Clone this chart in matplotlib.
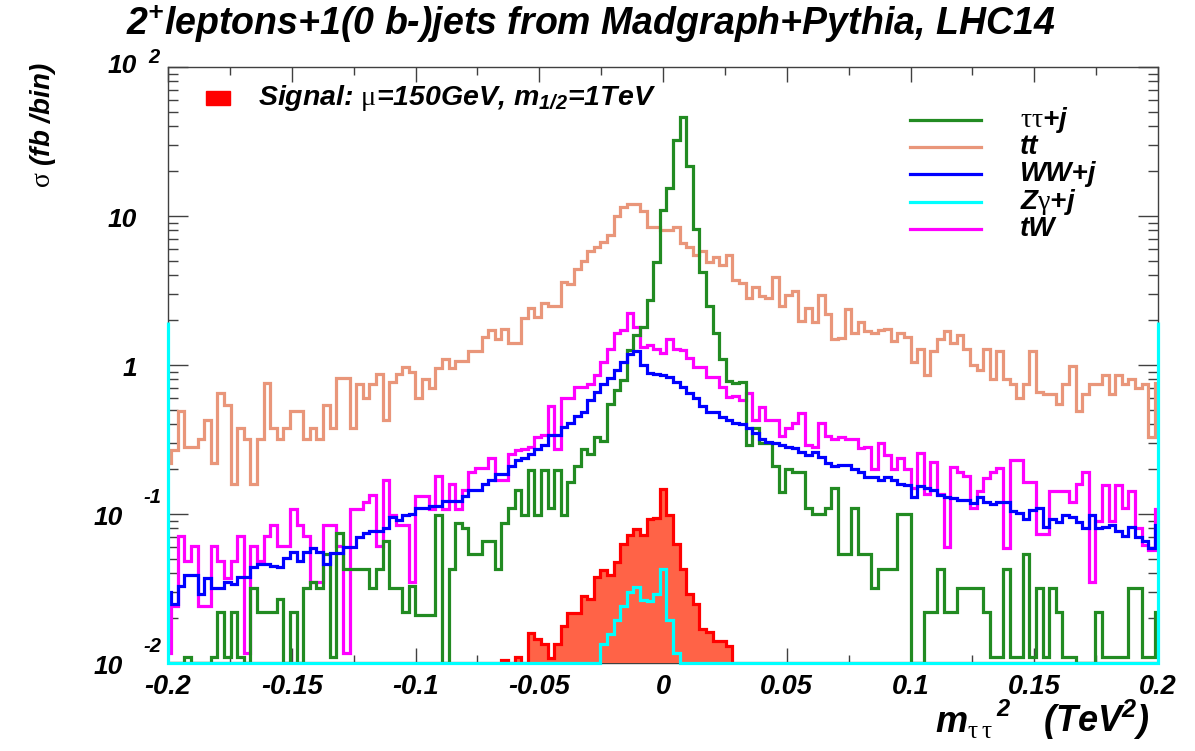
import numpy as np
import matplotlib
matplotlib.use("Agg")
import matplotlib.pyplot as plt
from matplotlib.transforms import ScaledTranslation
from matplotlib.ticker import LogLocator, NullFormatter, FixedLocator

plt.rcParams['font.family'] = 'Liberation Sans'
plt.rcParams['mathtext.fontset'] = 'custom'
plt.rcParams['mathtext.rm'] = 'Liberation Serif'
plt.rcParams['mathtext.it'] = 'Liberation Sans:style=italic:weight=bold'
plt.rcParams['mathtext.bf'] = 'Liberation Sans:style=italic:weight=bold'

# ---------------- data ----------------
N_BINS = 150                      # bins across [-0.2, 0.2], centred on 0
X_RANGE = (-0.2, 0.2)
Y_RANGE = (1e-2, 1e2)

# bin contents for bins -75 ... +75 (bin 0 centred at m^2 = 0)
tt = [0.22, 0.27, 0.49, 0.28, 0.28, 0.32, 0.43, 0.22, 0.65, 0.54,
      0.16, 0.38, 0.32, 0.16, 0.32, 0.76, 0.38, 0.32, 0.38, 0.49,
      0.49, 0.32, 0.38, 0.32, 0.54, 0.38, 0.82, 0.82, 0.38, 0.74,
      0.60, 0.74, 0.87, 0.43, 0.77, 0.87, 0.97, 0.90,
      0.60, 0.81, 0.70, 0.95, 1.10, 0.95, 1.07, 1.07, 1.24, 1.24,
      1.53, 1.71, 1.50, 1.75, 1.40, 1.40, 2.07, 2.40, 2.10, 2.60, 2.50, 2.50,
      3.6, 3.5, 4.4, 5.0, 5.8, 6.2, 6.7, 7.5, 10.0, 11.5,
      12.1, 12.1, 10.8, 8.4, 8.4, 8.1, 8.1, 8.4, 6.6, 6.2,
      5.5, 5.8, 4.9, 5.3, 4.7, 5.5, 3.7,
      3.57, 2.80, 3.36, 2.89, 2.80, 3.90, 2.49, 2.97, 3.16, 1.97,
      2.41, 1.93, 2.97, 2.20, 1.49, 1.52, 2.37, 1.63, 1.95, 1.68,
      1.63, 1.73, 1.75, 1.46, 1.65, 1.53,
      1.05, 1.28, 0.86, 1.24, 1.49, 1.68, 1.40, 1.58, 1.28, 1.00,
      0.92, 1.28, 0.81, 1.24, 0.81, 0.74, 0.60, 0.74, 1.24, 0.66,
      0.64, 0.64, 0.55, 0.74, 0.98, 0.49, 0.64, 0.74, 0.74, 0.86,
      0.64, 0.86, 0.74, 0.81, 0.70, 0.74, 0.33, 0.76]

ww = [0.030, 0.025, 0.033, 0.039, 0.039, 0.029, 0.037, 0.032, 0.032, 0.035,
      0.034, 0.038, 0.038, 0.044, 0.046, 0.046, 0.045, 0.044, 0.051, 0.056,
      0.048, 0.056, 0.059, 0.056, 0.046, 0.055, 0.055, 0.060, 0.060, 0.070,
      0.075, 0.077, 0.077, 0.080, 0.095, 0.091, 0.098, 0.100,
      0.109, 0.109, 0.114, 0.114, 0.123, 0.123, 0.123, 0.133, 0.146, 0.146,
      0.159, 0.169, 0.185, 0.185, 0.209, 0.229, 0.236, 0.251, 0.274, 0.292,
      0.339, 0.339, 0.383, 0.406, 0.458, 0.487,
      0.58, 0.66, 0.74, 0.82, 0.92, 1.05, 1.18, 1.25, 1.00, 0.88,
      0.87, 0.86, 0.83, 0.77, 0.71, 0.65, 0.60, 0.534, 0.487, 0.487,
      0.445, 0.426, 0.406,
      0.400, 0.376, 0.348, 0.317, 0.305, 0.298, 0.290, 0.283, 0.276, 0.262,
      0.249, 0.262, 0.242, 0.219, 0.210, 0.213, 0.213, 0.202, 0.192, 0.178,
      0.178, 0.169, 0.178, 0.169, 0.160, 0.157, 0.131, 0.153, 0.149, 0.145,
      0.134, 0.131, 0.128, 0.124,
      0.125, 0.118, 0.130, 0.121, 0.116, 0.121, 0.120, 0.104, 0.101, 0.093,
      0.106, 0.109, 0.082, 0.093, 0.089, 0.098, 0.096, 0.089, 0.080, 0.098,
      0.080, 0.082, 0.084, 0.077, 0.071, 0.082, 0.070, 0.066, 0.059, 0.084]

tautau = [0, 0, 0, 0.011, 0, 0, 0, 0.011, 0.022, 0.011,
          0.022, 0.011, 0, 0.032, 0.022, 0.022, 0.022, 0.027, 0, 0.022,
          0, 0.032, 0.035, 0.032, 0.054, 0.011, 0.075, 0.043, 0.043, 0.043,
          0.043, 0.032, 0.043, 0.066, 0.032, 0.032, 0.022, 0.033, 0.021, 0.021,
          0.021,
          0.098, 0, 0.043, 0.087, 0.080, 0.054, 0.054, 0.066, 0.066, 0.043,
          0.087, 0.110, 0.146, 0.098, 0.197, 0.098, 0.197, 0.110, 0.197, 0.098,
          0.164, 0.209, 0.275, 0.251, 0.330, 0.310, 0.55, 0.68, 0.79, 1.27,
          1.59, 1.81, 2.73, 4.94, 10.9, 15.3, 32.3, 46.3, 21.5, 8.2,
          4.2, 2.5, 1.65, 1.10, 0.78, 0.76,
          0.77, 0.29, 0.38, 0.30, 0.30, 0.21, 0.14, 0.20, 0.19, 0.19,
          0.11, 0.10, 0.10, 0.11, 0.15, 0.054, 0.054, 0.11, 0.054, 0.054,
          0.032, 0.043, 0.043, 0.043, 0.10, 0.10,
          0, 0, 0.022, 0.022, 0.043, 0.022, 0.022, 0.032, 0.032, 0.032,
          0.032, 0.022, 0.011, 0.011, 0.043, 0.011, 0.011, 0.054, 0.011, 0.032,
          0.011, 0.032, 0.022, 0.011, 0.011, 0, 0, 0, 0.022, 0.011,
          0.011, 0.011, 0.011, 0.032, 0.032, 0.011, 0.011, 0.022]

tw = [0.0117, 0.024, 0.071, 0.048, 0.061, 0.024, 0.024, 0.061, 0.048, 0.037,
      0.048, 0.071, 0.0117, 0.061, 0.048, 0.071, 0.084, 0.061, 0.061, 0.108,
      0.084, 0.071, 0.035, 0.035, 0.084, 0.084, 0.061, 0.0117, 0.108, 0.108,
      0.121, 0.134, 0.061, 0.169, 0.098, 0.084, 0.084, 0.035,
      0.133, 0.133, 0.108, 0.180, 0.108, 0.159, 0.108, 0.146, 0.191, 0.203,
      0.203, 0.236, 0.169, 0.169, 0.251, 0.270, 0.274, 0.283, 0.329, 0.339,
      0.533, 0.274,
      0.60, 0.60, 0.715, 0.715, 0.75, 0.857, 1.05, 1.29, 1.63, 1.72,
      2.22, 1.80, 1.33, 1.36, 1.29, 1.20, 1.49, 1.29, 1.26, 1.11,
      0.97, 0.97, 0.83, 0.83, 0.715, 0.61, 0.62,
      0.58, 0.645, 0.43, 0.52, 0.43, 0.43, 0.334, 0.376, 0.41, 0.474,
      0.29, 0.283, 0.41, 0.334, 0.32, 0.33, 0.32, 0.32, 0.276, 0.28,
      0.20, 0.298, 0.249, 0.20, 0.237, 0.20, 0.15, 0.258, 0.137, 0.225,
      0.137, 0.06, 0.208, 0.19,
      0.18, 0.11, 0.142, 0.175, 0.19, 0.203, 0.059, 0.229, 0.229, 0.164,
      0.164, 0.073, 0.073, 0.142, 0.142, 0.142, 0.121, 0.159, 0.19, 0.035,
      0.09, 0.156, 0.09, 0.156, 0.11, 0.142, 0.08, 0.062, 0.057, 0.108]

# signal: bins -75..-25 empty, -24..+10 below, +11..+75 empty
signal_core = [0.0105, 0, 0.011, 0, 0.0159, 0.0144, 0.0135, 0.0108, 0.0135, 0.0176,
               0.0216, 0.0216, 0.028, 0.027, 0.038, 0.0418, 0.039, 0.0477, 0.063, 0.072,
               0.079, 0.072, 0.092, 0.094, 0.147, 0.098, 0.063, 0.0426, 0.029, 0.025,
               0.0169, 0.0162, 0.0141, 0.0141, 0.0131]
signal = [0] * 51 + signal_core + [0] * 65

# Z gamma + j: bins -76 ... +76 (outer bins lie just outside the frame)
zgam_core = [0.0135, 0.0156, 0.0193, 0.0241, 0.0301, 0.0325, 0.0266, 0.026,
             0.029, 0.0426, 0.0195, 0.0117]          # bins -9 ... +2
zgam = [1.95] + [0] * 66 + zgam_core + [0] * 73 + [1.95]

# ---------------- binning ----------------
w = (X_RANGE[1] - X_RANGE[0]) / N_BINS
kk = np.arange(-75, 77) - 0.5
edges = np.clip(kk * w, *X_RANGE)
kz = np.arange(-76, 78) - 0.5
edges_z = np.clip(kz * w, *X_RANGE)


def floor(v):
    v = np.asarray(v, float)
    return np.where(v > 0, v, Y_RANGE[0])


BI = dict(fontweight='bold', fontstyle='italic')

# ---------------- figure ----------------
fig = plt.figure(figsize=(11.95, 7.51), dpi=100)
ax = fig.add_axes([168 / 1195, 1 - 663 / 751, 990 / 1195, 596 / 751])
ax.set_yscale('log')
ax.set_xlim(*X_RANGE)
ax.set_ylim(*Y_RANGE)

LW = 2.3
c_tt, c_tau, c_ww, c_z, c_tw = '#E9967A', '#228B22', '#0000FF', '#00FFFF', '#FF00FF'
ax.stairs(floor(tt), edges, color=c_tt, lw=LW, baseline=None, zorder=2.0)
ax.stairs(floor(tw), edges, color=c_tw, lw=LW, baseline=None, zorder=2.1)
ax.stairs(floor(tautau), edges, color=c_tau, lw=LW, baseline=None, zorder=2.2)
ax.stairs(floor(ww), edges, color=c_ww, lw=LW, baseline=None, zorder=2.3)
ax.stairs(floor(signal), edges, fill=True, color='#FF6347', baseline=Y_RANGE[0],
          zorder=2.4)
ax.stairs(floor(signal), edges, color='#FF0000', lw=LW, baseline=None, zorder=2.5)
ax.stairs(floor(zgam), edges_z, color=c_z, lw=LW, baseline=None, zorder=2.6,
          clip_on=False)

# frame and ticks
for s in ax.spines.values():
    s.set_color('#404040')
    s.set_linewidth(1.0)
    s.set_zorder(1)

xt = [-0.2, -0.15, -0.1, -0.05, 0, 0.05, 0.1, 0.15, 0.2]
xt_labels = ['-0.2', '-0.15', '-0.1', '-0.05', '0', '0.05', '0.1', '0.15', '0.2']
ax.xaxis.set_major_locator(FixedLocator(xt))
ax.xaxis.set_minor_locator(FixedLocator(np.arange(-0.175, 0.2, 0.05)))
ax.set_xticklabels(xt_labels, fontsize=19.5, **BI)
ax.yaxis.set_major_locator(LogLocator(base=10, numticks=10))
ax.yaxis.set_minor_locator(LogLocator(base=10, subs=np.arange(2, 10), numticks=10))
ax.yaxis.set_major_formatter(NullFormatter())
ax.yaxis.set_minor_formatter(NullFormatter())
ax.tick_params(which='both', direction='in', top=True, right=True,
               color='#404040', width=1.0)
ax.tick_params(axis='x', which='major', length=11, pad=8)
ax.tick_params(axis='x', which='minor', length=5.5)
ax.tick_params(axis='y', which='major', length=14.5)
ax.tick_params(axis='y', which='minor', length=7.5)

# y tick labels in ROOT style
ytr = ax.get_yaxis_transform()
def off(dx, dy):
    return ytr + ScaledTranslation(dx / 72, dy / 72, fig.dpi_scale_trans)

# (value, mantissa, exponent, mantissa x/y offset, exponent x/y offset) in points
ylab = [(1e2, '10', '2', (-22.5, 0.5), (-14.5, 6.5)),
        (10, '10', None, (-22.5, -3), None),
        (1, '1', None, (-22.5, -3), None),
        (0.1, '10', '-1', (-32.5, -3), (-18, 12)),
        (0.01, '10', '-2', (-32.5, -3), (-18, 12))]
for val, base, expo, boff, eoff in ylab:
    ax.text(0, val, base, transform=off(*boff), ha='right', va='center',
            fontsize=19, **BI)
    if expo is not None:
        ax.text(0, val, expo, transform=off(*eoff), ha='left', va='center',
                fontsize=14.5, **BI)

# titles
fig.text(0.4946, 1 - 24 / 751,
         '2$^{\\mathbf{+}}$leptons+1(0 b-)jets from Madgraph+Pythia, LHC14',
         ha='center', va='center', fontsize=27, **BI)
fig.text(43 / 1195, 1 - 62 / 751, '$\\mathrm{\\sigma}$ (fb /bin)', rotation=90,
         ha='center', va='top', fontsize=20, **BI)
# x-axis title, ROOT-like: m_{tau tau}^{2} (TeV^{2})
fig.text(935 / 1195, 1 - 732 / 751, 'm$_{\\mathrm{\\tau\\,\\tau}}$',
         ha='left', va='baseline', fontsize=26, **BI)
fig.text(996 / 1195, 1 - 716 / 751, '2',
         ha='left', va='baseline', fontsize=17, **BI)
fig.text(1150 / 1195, 1 - 732 / 751, '(TeV$^{\\mathbf{2}}$)',
         ha='right', va='baseline', fontsize=26, **BI)

# legend: signal box
def axpt(px, py):
    return (px - 168) / 990, (663 - py) / 596

x0, y0 = axpt(206, 105)
x1, y1 = axpt(230, 91)
ax.add_patch(plt.Rectangle((x0, y0), x1 - x0, y1 - y0, transform=ax.transAxes,
                           color='#FF0000', clip_on=False, zorder=5))
tx, ty = axpt(258, 98)
ax.text(tx, ty, 'Signal: $\\mathrm{\\mu}$=150GeV, m$_{\\mathbf{1/2}}$=1TeV',
        transform=ax.transAxes, ha='left', va='center', fontsize=20.5, **BI)

# legend: background lines
leg = [(c_tau, '$\\mathrm{\\tau\\tau}$+j'), (c_tt, 'tt'), (c_ww, 'WW+j'),
       (c_z, 'Z$\\mathrm{\\gamma}$+j'), (c_tw, 'tW')]
for i, (col, lab) in enumerate(leg):
    py = 120 + i * 27.2
    lx0, ly = axpt(910, py)
    lx1, _ = axpt(981, py)
    ax.plot([lx0, lx1], [ly, ly], transform=ax.transAxes, color=col, lw=LW,
            clip_on=False, zorder=5)
    tx, _ = axpt(1020, py)
    ax.text(tx, ly, lab, transform=ax.transAxes, ha='left', va='center',
            fontsize=20, **BI)

fig.savefig('out.png', dpi=100)
